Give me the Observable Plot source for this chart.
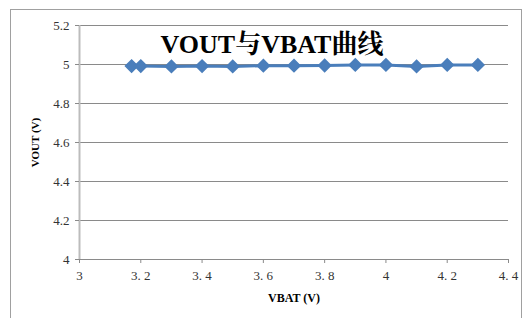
<!DOCTYPE html>
<html><head><meta charset="utf-8">
<script src="https://cdn.jsdelivr.net/npm/d3@7"></script>
<script src="https://cdn.jsdelivr.net/npm/@observablehq/plot@0.6"></script>
<style>
body{margin:0;background:#fff;}
#wrap{position:relative;width:526px;height:318px;overflow:hidden;}
#border{position:absolute;left:10px;top:9px;width:512px;height:330px;border:1px solid #a0a0a0;box-sizing:border-box;}
#title{position:absolute;left:0;width:544px;top:23px;line-height:26px;text-align:center;font:bold 26px "Liberation Serif","Noto Serif CJK SC","Noto Sans CJK SC",serif;color:#000;}
svg{position:absolute;left:0;top:0;}
</style></head>
<body><div id="wrap"><div id="border"></div></div>
<script>
const vbat = [3.17, 3.2, 3.3, 3.4, 3.5, 3.6, 3.7, 3.8, 3.9, 4.0, 4.1, 4.2, 4.3];
const vout = [4.992, 4.992, 4.99, 4.992, 4.99, 4.994, 4.994, 4.995, 4.998, 4.998, 4.99, 4.998, 4.998];
const xTicks = [3, 3.2, 3.4, 3.6, 3.8, 4, 4.2, 4.4];
const yTicks = [4, 4.2, 4.4, 4.6, 4.8, 5, 5.2];
const titleText = "VOUT与VBAT曲线";
const xLabel = "VBAT (V)";
const yLabel = "VOUT (V)";

const data = vbat.map((v, i) => ({x: v, y: vout[i]}));
const serif = "Liberation Serif";

const chart = Plot.plot({
  width: 526, height: 318,
  marginLeft: 79, marginRight: 18, marginTop: 25, marginBottom: 59,
  style: {fontFamily: serif, fontSize: "12px", color: "#333", background: "transparent"},
  x: {domain: [3, 4.4], ticks: xTicks, label: null},
  y: {domain: [4, 5.2], ticks: yTicks, label: null},
  marks: [
    Plot.gridY(yTicks, {stroke: "#8a8a8a", strokeOpacity: 1, strokeWidth: 1}),
    Plot.ruleX([3], {stroke: "#bcbcbc", strokeWidth: 2}),
    Plot.axisY({ticks: yTicks, tickSize: 4, tickPadding: 6, stroke: "#8a8a8a", tickFormat: d => String(d), fontSize: 13, fill: "#333", fontFamily: serif}),
    Plot.axisX({ticks: xTicks, tickSize: 4, tickPadding: 7, stroke: "#8a8a8a", tickFormat: d => String(d).replace(".", ". "), fontSize: 13, fill: "#333", fontFamily: serif}),
    Plot.ruleY([4], {stroke: "#8a8a8a", strokeWidth: 1}),
    Plot.axisX({ticks: [], label: xLabel, labelAnchor: "center", labelOffset: 42, labelArrow: "none", fontWeight: "bold", fontSize: 12, fill: "#000", fontFamily: serif}),
    Plot.axisY({ticks: [], label: yLabel, labelAnchor: "center", labelOffset: 48, labelArrow: "none", fontWeight: "bold", fontSize: 11, fill: "#000", fontFamily: serif}),
    Plot.line(data, {x: "x", y: "y", stroke: "#4a7ebb", strokeWidth: 3}),
    Plot.dot(data, {x: "x", y: "y", symbol: "diamond2", r: 5.5, fill: "#4a7ebb", stroke: "#4a7ebb"})
  ]
});
const wrap = document.getElementById("wrap");
wrap.appendChild(chart);
const t = document.createElement("div");
t.id = "title"; t.textContent = titleText;
wrap.appendChild(t);
</script></body></html>
